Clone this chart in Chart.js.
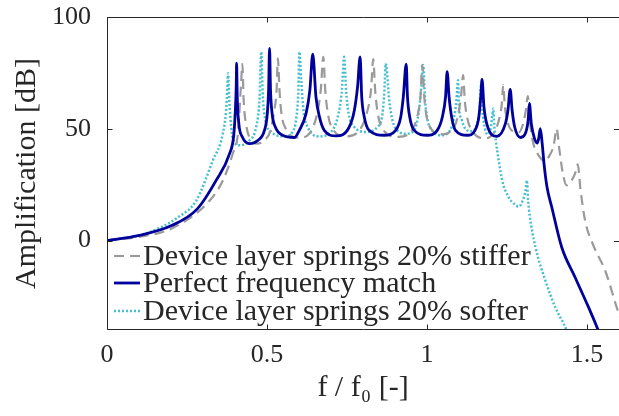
<!DOCTYPE html>
<html>
<head>
<meta charset="utf-8">
<script src="https://cdn.jsdelivr.net/npm/chart.js@4/dist/chart.umd.min.js"></script>
<style>
    html, body { margin: 0; padding: 0; background: #fff; }
    canvas { display: block; }
</style>
</head>
<body>
<canvas id="ampChart" width="619" height="416"></canvas>
<script>
'use strict';

/* f/f0 and amplification [dB] */

const matchF = [0, 0.097, 0.202, 0.283, 0.341, 0.383, 0.396, 0.401, 0.404, 0.405,
    0.407, 0.412, 0.423, 0.445, 0.471, 0.492, 0.501, 0.505, 0.508,
    0.511, 0.516, 0.526, 0.549, 0.586, 0.601, 0.622, 0.634, 0.643,
    0.653, 0.664, 0.679, 0.716, 0.757, 0.773, 0.783, 0.791,
    0.796, 0.804, 0.819, 0.866, 0.902, 0.918, 0.926, 0.935,
    0.939, 0.946, 0.960, 1.001, 1.032, 1.048, 1.058, 1.063,
    1.069, 1.077, 1.089, 1.126, 1.150, 1.162, 1.168, 1.172,
    1.178, 1.188, 1.218, 1.245, 1.253, 1.260,
    1.266, 1.274, 1.292, 1.307, 1.316, 1.320,
    1.326, 1.336, 1.344, 1.349, 1.354,
    1.360, 1.366, 1.375, 1.390, 1.421, 1.463, 1.505, 1.536, 1.546];
const matchDb = [0, 2.2, 6.7, 14.3, 26.9, 38.9, 47, 58, 70, 79.4,
    64.3, 52.3, 46.3, 43.4, 44.8, 49.3, 56.8, 67.3, 86,
    67.3, 56.8, 50.8, 47.1, 46.1, 49.3, 56.8, 67.3, 83.4,
    64.3, 55.3, 49.3, 46.8, 50.8, 58.3, 68.7, 82.2,
    64.3, 55.3, 49.3, 47.1, 49.3, 55.3, 64.3, 78.9,
    64.3, 55.3, 49.3, 47.1, 49.3, 55.3, 64.3, 75.5,
    64.3, 55.3, 49.3, 47.1, 49.3, 55.3, 64.3, 72.1,
    59.8, 51.6, 46.6, 52.3, 58.3, 67.6,
    58.3, 50.8, 46.1, 47.8, 53.8, 61.3,
    52.3, 45.6, 43.6, 45.6, 50.1,
    43.4, 34, 24, 14.9, -3, -16.5, -29.9, -40.4, -44];

const stifferF = [0, 0.097, 0.202, 0.321, 0.362, 0.393, 0.409, 0.419, 0.423,
    0.427, 0.435, 0.445, 0.466, 0.492, 0.511, 0.523, 0.530, 0.534,
    0.539, 0.545, 0.558, 0.601, 0.639, 0.657, 0.668, 0.676,
    0.682, 0.690, 0.704, 0.748, 0.791, 0.812, 0.825, 0.832,
    0.838, 0.846, 0.860, 0.910, 0.953, 0.972, 0.980, 0.985,
    0.991, 0.998, 1.012, 1.041, 1.078, 1.097, 1.106, 1.113,
    1.118, 1.126, 1.140, 1.181, 1.212, 1.226, 1.234, 1.238,
    1.243, 1.252, 1.268, 1.287, 1.299, 1.308, 1.315,
    1.321, 1.330, 1.349, 1.368, 1.383, 1.396, 1.405,
    1.414, 1.424, 1.436, 1.452, 1.464, 1.471,
    1.480, 1.494, 1.520, 1.557, 1.593, 1.605];
const stifferDb = [0, 1.6, 5.4, 17.9, 26.9, 38.9, 47.8, 70.3, 79,
    62.8, 51.6, 46.2, 43.4, 44.8, 49.3, 58.3, 67.3, 81.5,
    67.3, 57, 50.2, 46, 49.3, 57, 67.3, 82.2,
    67.3, 57, 50.2, 46.6, 49.8, 57, 67.3, 81.2,
    67.3, 57, 50.2, 46.4, 49.3, 57, 65, 78.5,
    65, 56, 50.2, 47.5, 49.3, 56, 64.1, 74,
    62.8, 54.7, 49.3, 45.7, 48.9, 54.7, 61.4, 69.5,
    60.5, 52.9, 48.9, 48.4, 51.6, 57.4, 64.6,
    53.8, 44.8, 38.1, 35.6, 38.1, 42.6, 50,
    40.4, 30.5, 24.7, 26.9, 30.5, 34.1,
    22.4, 9, -2.2, -13.5, -29.9, -35];

const softerF = [0, 0.118, 0.222, 0.279, 0.331, 0.362, 0.372, 0.376, 0.378,
    0.383, 0.393, 0.414, 0.445, 0.466, 0.477, 0.482,
    0.487, 0.495, 0.513, 0.555, 0.580, 0.592, 0.598, 0.601,
    0.607, 0.614, 0.627, 0.664, 0.700, 0.721, 0.734, 0.741,
    0.747, 0.755, 0.773, 0.809, 0.845, 0.861, 0.867, 0.871,
    0.882, 0.892, 0.907, 0.934, 0.960, 0.975, 0.983, 0.988,
    0.994, 1.002, 1.016, 1.044, 1.072, 1.084, 1.092, 1.097,
    1.100, 1.109, 1.121, 1.140, 1.156, 1.164, 1.168,
    1.173, 1.181, 1.190, 1.199, 1.204, 1.207,
    1.210, 1.215, 1.224, 1.235, 1.255, 1.271, 1.287, 1.299, 1.308, 1.312,
    1.316, 1.321, 1.339, 1.370, 1.401, 1.437, 1.447];
const softerDb = [0, 3, 10.4, 17.9, 35.9, 47.8, 58, 68, 74.8,
    60.5, 45.7, 42.6, 44.8, 50.8, 64.1, 84.4,
    64.3, 53.8, 48.6, 46.6, 48.6, 55.3, 67.3, 84.4,
    71.7, 58.3, 50.8, 46.6, 48.6, 55.3, 67.3, 82.2,
    67.3, 56.8, 50.8, 48.6, 50.8, 56.8, 67.3, 79.2,
    62.8, 53.8, 49.3, 47.8, 49.3, 58.3, 70.3, 78.5,
    62.8, 53.8, 49.3, 47.1, 49.3, 54.7, 62.8, 71.7,
    60.5, 53.8, 49.8, 48.9, 52, 58.3, 69.1,
    58.3, 50.2, 47.5, 50.2, 56, 59.1,
    51.6, 44.8, 35.9, 26.9, 19.4, 16.6, 15.2, 17.9, 22.4, 26.9,
    17.9, 11.2, -3, -17.9, -29.9, -40.4, -45];

const xTicks = [0, 0.5, 1, 1.5];
const yTicks = [0, 50, 100];

const legendLabels = ['Device layer springs 20% stiffer', 'Perfect frequency match', 'Device layer springs 20% softer'];

const textColor = '#262626';
const serif = "'Liberation Serif', 'Times New Roman', serif";

function toPoints(fs, dbs) {
    return fs.map((f, i) => ({x: f, y: dbs[i]}));
}

/* matlab style box with ticks pointing inwards (right edge is cut off in the original) */
const frame = {
    id: 'frame',
    afterDatasetsDraw(chart) {
        const {ctx, chartArea: a, scales} = chart;
        const top = Math.round(a.top) + 0.5;
        const bottom = Math.round(a.bottom) - 0.5;
        const left = Math.round(a.left) + 0.5;
        const right = a.right;
        ctx.save();
        ctx.strokeStyle = textColor;
        ctx.lineWidth = 1;
        ctx.beginPath();
        ctx.moveTo(right, top);
        ctx.lineTo(left, top);
        ctx.lineTo(left, bottom);
        ctx.lineTo(right, bottom);
        for (const v of xTicks) {
            const px = Math.round(scales.x.getPixelForValue(v)) + 0.5;
            ctx.moveTo(px, bottom); ctx.lineTo(px, bottom - 5);
            ctx.moveTo(px, top); ctx.lineTo(px, top + 5);
        }
        for (const v of yTicks) {
            const py = Math.round(scales.y.getPixelForValue(v)) + 0.5;
            ctx.moveTo(left, py); ctx.lineTo(left + 5, py);
            ctx.moveTo(right, py); ctx.lineTo(right - 5, py);
        }
        ctx.stroke();
        ctx.restore();
    }
};

/* legend by hand - rows sit tighter than the built-in legend allows */
const handLegend = {
    id: 'handLegend',
    afterDraw(chart) {
        const {ctx, chartArea: a} = chart;
        const rowsY = [a.bottom - 74, a.bottom - 47, a.bottom - 19];
        const order = [1, 0, 2];
        ctx.save();
        ctx.font = '30px ' + serif;
        ctx.fillStyle = textColor;
        ctx.textAlign = 'left';
        ctx.textBaseline = 'alphabetic';
        order.forEach((di, row) => {
            const ds = chart.data.datasets[di];
            const y = rowsY[row];
            ctx.beginPath();
            ctx.strokeStyle = ds.borderColor;
            ctx.lineWidth = ds.borderWidth;
            ctx.setLineDash(ds.borderDash || []);
            ctx.moveTo(a.left + 7, y);
            ctx.lineTo(a.left + 33, y);
            ctx.stroke();
            ctx.setLineDash([]);
            ctx.fillText(legendLabels[row], a.left + 36, y + 9);
        });
        ctx.restore();
    }
};

const ctx = document.getElementById('ampChart').getContext('2d');

const chart = new Chart(ctx, {
    type: 'line',
    data: {
        datasets: [{
            label: legendLabels[1],
            data: toPoints(matchF, matchDb),
            borderColor: '#00009c',
            borderWidth: 2.8
        },
        {
            label: legendLabels[0],
            data: toPoints(stifferF, stifferDb),
            borderColor: '#9a9a9a',
            borderWidth: 2.2,
            borderDash: [10, 6]
        },
        {
            label: legendLabels[2],
            data: toPoints(softerF, softerDb),
            borderColor: '#45bfd0',
            borderWidth: 2.5,
            borderDash: [2, 2]
        }]
    },
    options: {
        responsive: false,
        animation: false,
        devicePixelRatio: 1,
        layout: {padding: {top: 17, right: 0, left: 0, bottom: 0}},
        elements: {
            point: {radius: 0},
            line: {cubicInterpolationMode: 'monotone', fill: false}
        },
        plugins: {
            legend: {display: false},
            tooltip: {enabled: false}
        },
        scales: {
            x: {
                type: 'linear',
                min: 0,
                max: 1.6,
                afterBuildTicks: s => { s.ticks = xTicks.map(v => ({value: v})); },
                afterFit: s => { s.height = 86; s.paddingLeft = 0; s.paddingRight = 0; },
                grid: {display: false, drawTicks: false},
                border: {display: false},
                ticks: {
                    color: textColor,
                    font: {family: serif, size: 26},
                    padding: 10,
                    maxRotation: 0,
                    autoSkip: false,
                    callback: v => String(v)
                },
                title: {
                    display: true,
                    text: 'f / f\u2080 [-]',
                    color: textColor,
                    font: {family: serif, size: 30},
                    padding: {top: 0, bottom: 10}
                }
            },
            y: {
                type: 'linear',
                min: -40,
                max: 100,
                afterBuildTicks: s => { s.ticks = yTicks.map(v => ({value: v})); },
                // fixed width, and no extra room for the "100" label above the box
                afterFit: s => { s.width = 107; s.paddingTop = 0; s.paddingBottom = 0; },
                grid: {display: false, drawTicks: false},
                border: {display: false},
                ticks: {
                    color: textColor,
                    font: {family: serif, size: 26},
                    padding: 16,
                    autoSkip: false,
                    callback: v => String(v)
                },
                title: {
                    display: true,
                    text: 'Amplification [dB]',
                    color: textColor,
                    font: {family: serif, size: 30},
                    padding: {top: 9, bottom: 0}
                }
            }
        }
    },
    plugins: [frame, handLegend]
});
</script>
</body>
</html>
